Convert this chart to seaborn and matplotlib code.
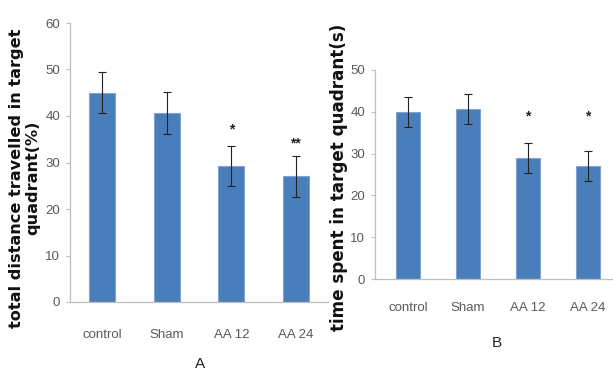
import numpy as np
import pandas as pd
import matplotlib
matplotlib.use("Agg")
import matplotlib.pyplot as plt
import seaborn as sns

groups = ["control", "Sham", "AA 12", "AA 24"]

# panel A: distance travelled in target quadrant (%)
dist_mean = [45.0, 40.7, 29.2, 27.0]
dist_err = [4.4, 4.5, 4.3, 4.4]
dist_sig = ["", "", "*", "**"]
dist_sig_y = [0, 0, 37.0, 34.0]

# panel B: time spent in target quadrant (s)
time_mean = [40.0, 40.7, 29.0, 27.0]
time_err = [3.6, 3.6, 3.6, 3.6]
time_sig = ["", "", "*", "*"]
time_sig_y = [0, 0, 38.8, 38.8]

sns.set_style("white")
plt.rcParams['font.family'] = ['Liberation Sans', 'DejaVu Sans']

W, H = 613, 373
fig = plt.figure(figsize=(W / 100, H / 100), dpi=100)

bar_color = "#4A7EBB"
grey = "#595959"


def panel(rect, means, errs, sig, sig_y, ymax, ystep, xlim, ylabel, lab_size,
          lab_xy, letter, letter_xy, xpad):
    ax = fig.add_axes(rect)
    df = pd.DataFrame({"group": groups, "value": means})
    sns.barplot(data=df, x="group", y="value", color=bar_color, width=0.4,
                edgecolor="#7FA3D3", linewidth=0.8, saturation=1, ax=ax)
    ax.errorbar(range(len(groups)), means, yerr=errs, fmt="none",
                ecolor="#222222", elinewidth=0.8, capsize=3, capthick=0.8)
    for i, (s, y) in enumerate(zip(sig, sig_y)):
        if s:
            ax.text(i, y, s, ha="center", va="center", fontsize=10,
                    fontweight="bold", color="#222222")
    ax.set_ylim(0, ymax)
    ax.set_yticks(np.arange(0, ymax + 1, ystep))
    ax.set_xlim(*xlim)
    ax.set_xlabel("")
    ax.set_ylabel(ylabel, fontsize=lab_size, fontweight="bold", color="#111111",
                  family="DejaVu Sans", linespacing=1.1)
    ax.yaxis.set_label_coords(*lab_xy)
    sns.despine(ax=ax)
    for sp in ["left", "bottom"]:
        ax.spines[sp].set_color("#BFBFBF")
        ax.spines[sp].set_linewidth(0.9)
    ax.tick_params(axis="y", left=True, length=3, width=0.8, color="#BFBFBF",
                   labelcolor=grey, labelsize=9.5, pad=4)
    ax.tick_params(axis="x", bottom=False, labelcolor=grey, labelsize=9.5,
                   pad=xpad)
    fig.text(letter_xy[0] / W, 1 - letter_xy[1] / H, letter, ha="center",
             va="center", fontsize=11, color="#222222")
    return ax


panel([70 / W, 71 / H, 258 / W, 279 / H], dist_mean, dist_err, dist_sig,
      dist_sig_y, 60, 10, (-0.5, 3.5),
      "total distance travelled in target\nquadrant(%)", 11.6, (-0.115, 0.444),
      "A", (200, 364), 16)

panel([375 / W, 94 / H, 238 / W, 209 / H], time_mean, time_err, time_sig,
      time_sig_y, 50, 10, (-0.55, 3.42),
      "time spent in target quadrant(s)", 12.1, (-0.115, 0.488),
      "B", (497, 343), 13)

fig.savefig("out.png", dpi=100, facecolor="white")
